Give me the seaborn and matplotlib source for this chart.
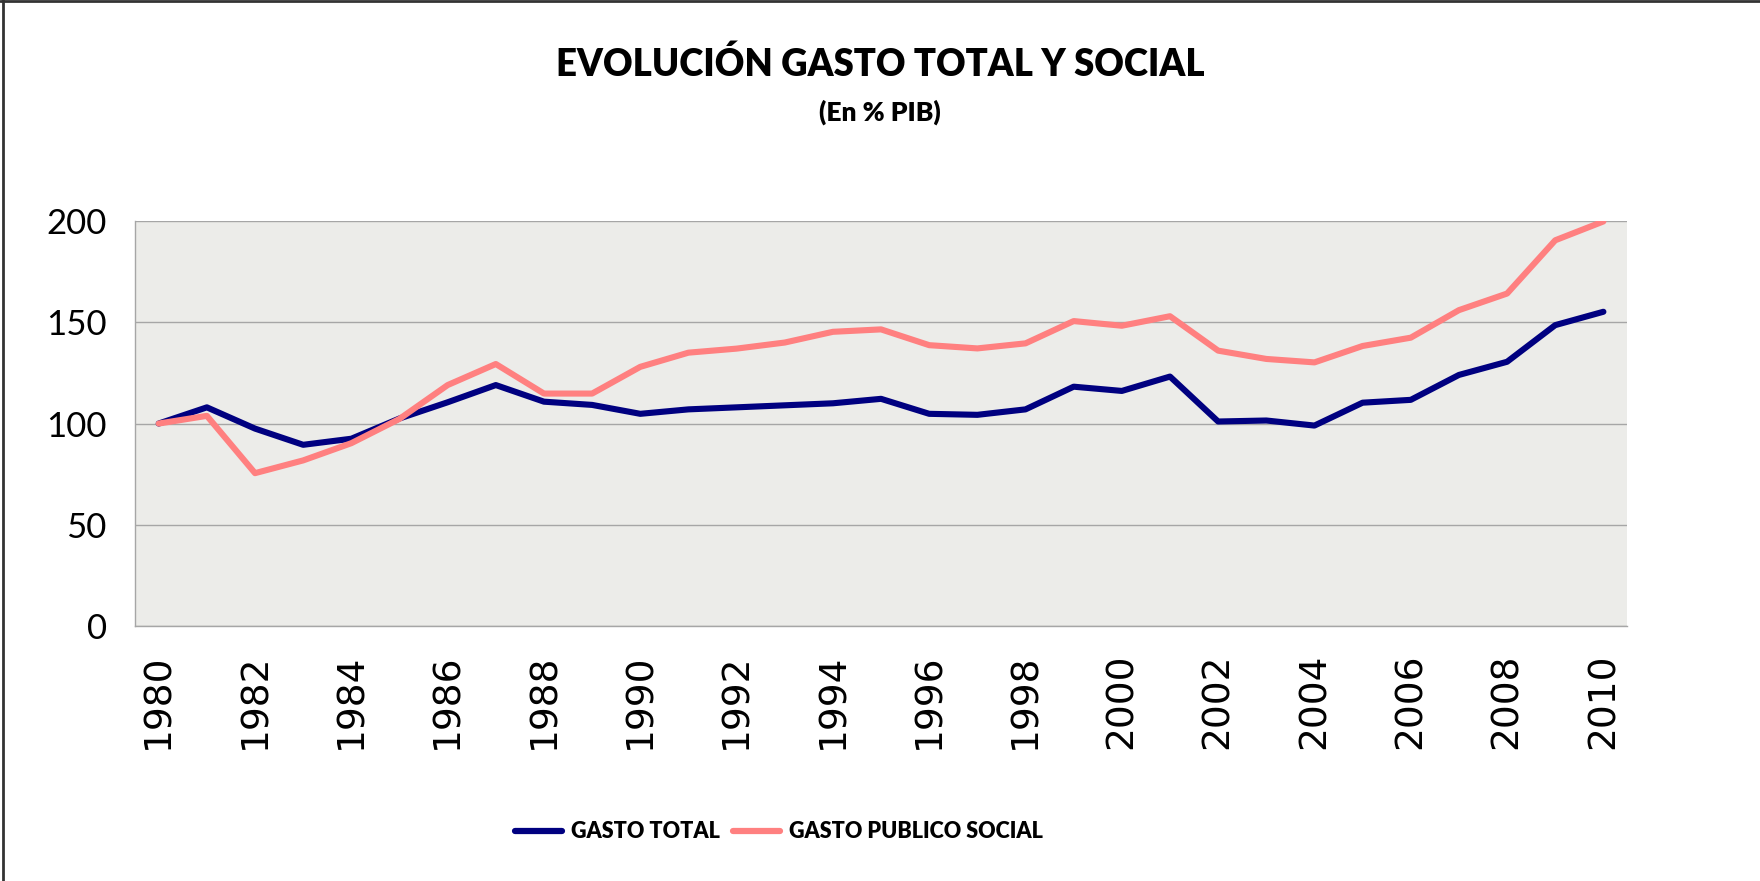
import numpy as np
import pandas as pd
import matplotlib
matplotlib.use("Agg")
import matplotlib.pyplot as plt
from matplotlib.lines import Line2D
import seaborn as sns

# Annual index values (1980 = 100)
years = list(range(1980, 2011))
gasto_total = [100, 108, 97.5, 89.5, 92.5, 102.5, 110.5, 119, 110.8, 109.2,
               104.8, 107, 108, 109, 110, 112.2, 104.8, 104.3, 107, 118.2,
               116.1, 123.2, 101, 101.5, 99, 110.3, 111.7, 124, 130.5, 148.6,
               155.2]
gasto_social = [100, 103.8, 75.5, 81.8, 90.3, 102.3, 119, 129.4, 114.8, 114.8,
                128, 135, 137, 140, 145.3, 146.5, 138.7, 137.1, 139.6, 150.6,
                148.3, 153, 136, 131.9, 130.2, 138.3, 142.4, 156, 164.2, 190.5,
                199.8]
series_names = ["GASTO TOTAL", "GASTO PUBLICO SOCIAL"]
series_colors = ["#000080", "#FF8080"]
y_ticks = [0, 50, 100, 150, 200]

df = pd.DataFrame({
    "idx": list(range(len(years))) * 2,
    "valor": gasto_total + gasto_social,
    "serie": [series_names[0]] * len(years) + [series_names[1]] * len(years),
})

sns.set_style("white")
plt.rcParams["font.family"] = ["Lato", "DejaVu Sans"]
plt.rcParams["text.color"] = "black"
plt.rcParams["xtick.color"] = "black"
plt.rcParams["ytick.color"] = "black"

fig = plt.figure(figsize=(17.6, 8.81), dpi=100)
ax = fig.add_axes([0.0765, 0.2894, 0.8482, 0.4597])
ax.set_facecolor("#ecece9")

sns.lineplot(data=df, x="idx", y="valor", hue="serie", palette=series_colors,
             linewidth=4.4, ax=ax, legend=False, solid_joinstyle="round",
             solid_capstyle="round")

# axes limits / grid
ax.set_xlim(-0.5, len(years) - 0.5)
ax.set_ylim(0, 200)
ax.set_yticks(y_ticks)
ax.set_yticklabels([str(v) for v in y_ticks], fontsize=25, family="Lato")
ax.yaxis.grid(True, color="#a6a6a6", linewidth=1)
ax.set_axisbelow(True)
ax.tick_params(axis="y", length=8, width=1, color="#a6a6a6", labelcolor="black", pad=12)

# category axis: tick marks between categories, labels every 2 years
ax.set_xticks(np.arange(-0.5, len(years), 1.0))
ax.set_xticklabels([])
ax.tick_params(axis="x", which="major", length=9, width=1, color="#a6a6a6")
ax.set_xticks(range(0, len(years), 2), minor=True)
ax.set_xticklabels([str(y) for y in years[::2]], minor=True, rotation=90,
                   fontsize=27, family="DejaVu Sans")
ax.tick_params(axis="x", which="minor", length=0, pad=20, labelcolor="black")

ax.set_xlabel("")
ax.set_ylabel("")
for side in ["top", "right"]:
    ax.spines[side].set_visible(False)
for side in ["left", "bottom"]:
    ax.spines[side].set_color("#a6a6a6")
    ax.spines[side].set_linewidth(1)

# titles
fig.text(0.5, 0.927, "EVOLUCIÓN GASTO TOTAL Y SOCIAL", ha="center", va="center",
         fontsize=26.3, fontweight="heavy", color="black")
fig.text(0.5, 0.873, "(En % PIB)", ha="center", va="center",
         fontsize=19, fontweight="heavy", color="black")

# legend
handles = [Line2D([0], [0], color=c, linewidth=4.5, solid_capstyle="round")
           for c in series_colors]
fig.legend(handles, series_names, loc="center", bbox_to_anchor=(0.4425, 0.056),
           ncol=2, frameon=False,
           prop={"family": "Lato", "weight": "heavy", "size": 15.5},
           handlelength=2.2, handletextpad=0.4, columnspacing=0.6)

# outer chart frame (top and left edges visible)
fig.add_artist(Line2D([0.0015, 0.0015], [0, 1], transform=fig.transFigure,
                      color="#333333", linewidth=2))
fig.add_artist(Line2D([0, 1], [0.999, 0.999], transform=fig.transFigure,
                      color="#333333", linewidth=2))

fig.savefig("out.png", dpi=100)
